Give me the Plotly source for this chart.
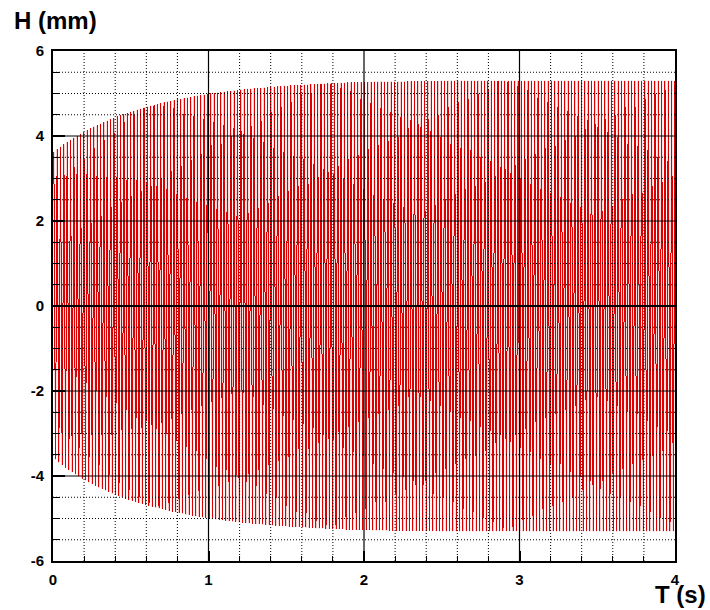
import numpy as np
import plotly.graph_objects as go

# Crest height of each wave cycle (mm), in time order
crest_mm = [
    3.63, 3.69, 3.75, 3.80, 3.86, 3.91, 3.96, 4.00, 4.05, 4.09,
    4.14, 4.18, 4.22, 4.25, 4.29, 4.33, 4.36, 4.39, 4.42, 4.46,
    4.49, 4.51, 4.54, 4.57, 4.59, 4.62, 4.64, 4.67, 4.69, 4.71,
    4.73, 4.75, 4.77, 4.79, 4.81, 4.82, 4.84, 4.86, 4.87, 4.89,
    4.90, 4.92, 4.93, 4.95, 4.96, 4.97, 4.99, 5.00, 5.01, 5.02,
    5.03, 5.04, 5.05, 5.06, 5.07, 5.08, 5.09, 5.10, 5.11, 5.11,
    5.12, 5.13, 5.13, 5.14, 5.15, 5.15, 5.16, 5.17, 5.17, 5.18,
    5.18, 5.19, 5.19, 5.20, 5.20, 5.21, 5.21, 5.22, 5.22, 5.23,
    5.23, 5.23, 5.24, 5.24, 5.24, 5.25, 5.25, 5.25, 5.26, 5.26,
    5.26, 5.26, 5.27, 5.27, 5.27, 5.27, 5.28, 5.28, 5.28, 5.28,
    5.28, 5.28, 5.28, 5.28, 5.28, 5.28, 5.29, 5.29, 5.29, 5.29,
    5.29, 5.29, 5.29, 5.29, 5.29, 5.29, 5.30, 5.30, 5.30, 5.30,
    5.30, 5.30, 5.30, 5.30, 5.30, 5.30, 5.30, 5.30, 5.30, 5.30,
    5.30, 5.30, 5.30, 5.30, 5.30, 5.30, 5.30, 5.30, 5.30, 5.30,
    5.30, 5.30, 5.30, 5.30, 5.30, 5.30, 5.30, 5.30, 5.30, 5.30,
    5.30, 5.30, 5.30, 5.30, 5.30, 5.30, 5.30, 5.30, 5.30, 5.30,
    5.30, 5.30, 5.30, 5.30, 5.30, 5.30, 5.30, 5.30, 5.30, 5.30,
    5.30, 5.30, 5.30, 5.30, 5.30, 5.30, 5.30, 5.30, 5.30, 5.30,
    5.30, 5.30, 5.30, 5.30, 5.30, 5.30, 5.30,
]

# Trough depth of each wave cycle (mm), in time order
trough_mm = [
    -3.61, -3.68, -3.74, -3.80, -3.86, -3.91, -3.96, -4.01, -4.06, -4.10,
    -4.15, -4.19, -4.23, -4.27, -4.30, -4.34, -4.37, -4.41, -4.44, -4.47,
    -4.50, -4.53, -4.56, -4.58, -4.61, -4.63, -4.66, -4.68, -4.70, -4.72,
    -4.74, -4.76, -4.78, -4.80, -4.82, -4.84, -4.85, -4.87, -4.88, -4.90,
    -4.91, -4.93, -4.94, -4.96, -4.97, -4.98, -5.00, -5.01, -5.02, -5.03,
    -5.04, -5.05, -5.06, -5.07, -5.08, -5.09, -5.10, -5.11, -5.11, -5.12,
    -5.13, -5.13, -5.14, -5.15, -5.15, -5.16, -5.17, -5.17, -5.18, -5.18,
    -5.19, -5.19, -5.20, -5.20, -5.21, -5.21, -5.22, -5.22, -5.23, -5.23,
    -5.23, -5.24, -5.24, -5.24, -5.25, -5.25, -5.25, -5.26, -5.26, -5.26,
    -5.26, -5.27, -5.27, -5.27, -5.27, -5.28, -5.28, -5.28, -5.28, -5.28,
    -5.29, -5.29, -5.29, -5.29, -5.29, -5.29, -5.29, -5.29, -5.29, -5.29,
    -5.29, -5.29, -5.29, -5.29, -5.30, -5.30, -5.30, -5.30, -5.30, -5.30,
    -5.30, -5.30, -5.30, -5.30, -5.30, -5.30, -5.30, -5.30, -5.30, -5.30,
    -5.30, -5.30, -5.30, -5.30, -5.30, -5.30, -5.30, -5.30, -5.30, -5.30,
    -5.30, -5.30, -5.30, -5.30, -5.30, -5.30, -5.30, -5.30, -5.30, -5.30,
    -5.30, -5.30, -5.30, -5.30, -5.30, -5.30, -5.30, -5.30, -5.30, -5.30,
    -5.30, -5.30, -5.30, -5.30, -5.30, -5.30, -5.30, -5.30, -5.30, -5.30,
    -5.30, -5.30, -5.30, -5.30, -5.30, -5.30, -5.30, -5.30, -5.30, -5.30,
    -5.30, -5.30, -5.30, -5.30, -5.30, -5.30, -5.30,
]

# Record window and number of oscillation cycles inside it
record_length_s = 4.0
cycles_in_record = 186.25

# Axis ticks
x_ticks = [0, 1, 2, 3, 4]
x_tick_labels = ["0", "1", "2", "3", "4"]
y_ticks = [-6, -4, -2, 0, 2, 4, 6]
y_tick_labels = ["-6", "-4", "-2", "0", "2", "4", "6"]
x_minor_step = 0.2
y_minor_step = 0.5

# Time of every crest / trough: crest at a quarter cycle, trough at three quarters
period_s = record_length_s / cycles_in_record
cycle = np.arange(len(crest_mm))
t = np.empty(2 * len(cycle))
h = np.empty(2 * len(cycle))
t[0::2] = (cycle + 0.25) * period_s
t[1::2] = (cycle + 0.75) * period_s
h[0::2] = crest_mm
h[1::2] = trough_mm

RED = "rgb(222,0,0)"
PINK = "rgb(244,165,165)"
FONT = "Liberation Sans, Arial, sans-serif"

fig = go.Figure()
# soft under-stroke of the record
fig.add_trace(go.Scatter(
    x=t, y=h, mode="lines",
    line=dict(color=PINK, width=1),
    hoverinfo="skip",
))
# hard-edged record on top
fig.add_trace(go.Scatter(
    x=t, y=h, mode="lines",
    line=dict(color=RED, width=1),
    hoverinfo="skip",
))

# Grid drawn over the trace: dotted minor lines, solid major lines
shapes = []
x_lo, x_hi = x_ticks[0], x_ticks[-1]
y_lo, y_hi = y_ticks[0], y_ticks[-1]
n_xm = int(round((x_hi - x_lo) / x_minor_step))
for i in range(1, n_xm):
    xv = x_lo + i * x_minor_step
    if abs(xv - round(xv)) < 1e-9:
        continue
    shapes.append(dict(type="line", xref="x", yref="y", x0=xv, x1=xv, y0=y_lo, y1=y_hi,
                       line=dict(color="black", width=1, dash="1px,2px"), layer="above"))
n_ym = int(round((y_hi - y_lo) / y_minor_step))
for i in range(1, n_ym):
    yv = y_lo + i * y_minor_step
    if abs(yv / 2 - round(yv / 2)) < 1e-9:
        continue
    shapes.append(dict(type="line", xref="x", yref="y", x0=x_lo, x1=x_hi, y0=yv, y1=yv,
                       line=dict(color="black", width=1, dash="1px,2px"), layer="above"))
for xv in x_ticks[1:-1]:
    shapes.append(dict(type="line", xref="x", yref="y", x0=xv, x1=xv, y0=y_lo, y1=y_hi,
                       line=dict(color="black", width=1.2), layer="above"))
for yv in y_ticks[1:-1]:
    shapes.append(dict(type="line", xref="x", yref="y", x0=x_lo, x1=x_hi, y0=yv, y1=yv,
                       line=dict(color="black", width=2 if yv == 0 else 1), layer="above"))

tick_font = dict(family=FONT, size=15, color="black", weight="bold")
title_font = dict(family=FONT, size=24, color="black", weight="bold")

fig.update_layout(
    width=710, height=610,
    margin=dict(l=53, r=35, t=51, b=49, pad=0),
    paper_bgcolor="white", plot_bgcolor="white",
    showlegend=False,
    shapes=shapes,
    xaxis=dict(
        range=[x_lo, x_hi], tickvals=x_ticks, ticktext=x_tick_labels,
        ticks="inside", ticklen=10, tickwidth=2, tickcolor="black",
        showline=True, linewidth=2, linecolor="black", mirror=True,
        showgrid=False, zeroline=False, tickfont=tick_font,
        ticklabelstandoff=4,
        minor=dict(dtick=x_minor_step, ticks="inside", ticklen=5, tickwidth=1,
                   tickcolor="black", showgrid=False),
    ),
    yaxis=dict(
        range=[y_lo, y_hi], tickvals=y_ticks, ticktext=y_tick_labels,
        ticks="inside", ticklen=12, tickwidth=2, tickcolor="black",
        showline=True, linewidth=2, linecolor="black", mirror=True,
        showgrid=False, zeroline=False, tickfont=tick_font,
        ticklabelstandoff=4,
        minor=dict(dtick=y_minor_step, ticks="inside", ticklen=7, tickwidth=1,
                   tickcolor="black", showgrid=False),
    ),
    annotations=[
        dict(text="H (mm)", xref="paper", yref="paper",
             x=(12 - 53) / 622, y=1 + (51 - 21) / 510,
             xanchor="left", yanchor="middle", showarrow=False, font=title_font),
        dict(text="T (s)", xref="paper", yref="paper",
             x=(681 - 53) / 622, y=-(594 - 561) / 510,
             xanchor="center", yanchor="middle", showarrow=False, font=title_font),
    ],
)

# Top trace is drawn with hard (non-antialiased) pixel edges
crisp_trace = (
    "var ls=document.querySelectorAll('.scatterlayer .trace');"
    "if(ls.length>1){ls[ls.length-1].querySelectorAll('.js-line').forEach("
    "function(p){p.style.shapeRendering='crispEdges';});}"
)

fig.write_html("out.html", post_script=crisp_trace)
